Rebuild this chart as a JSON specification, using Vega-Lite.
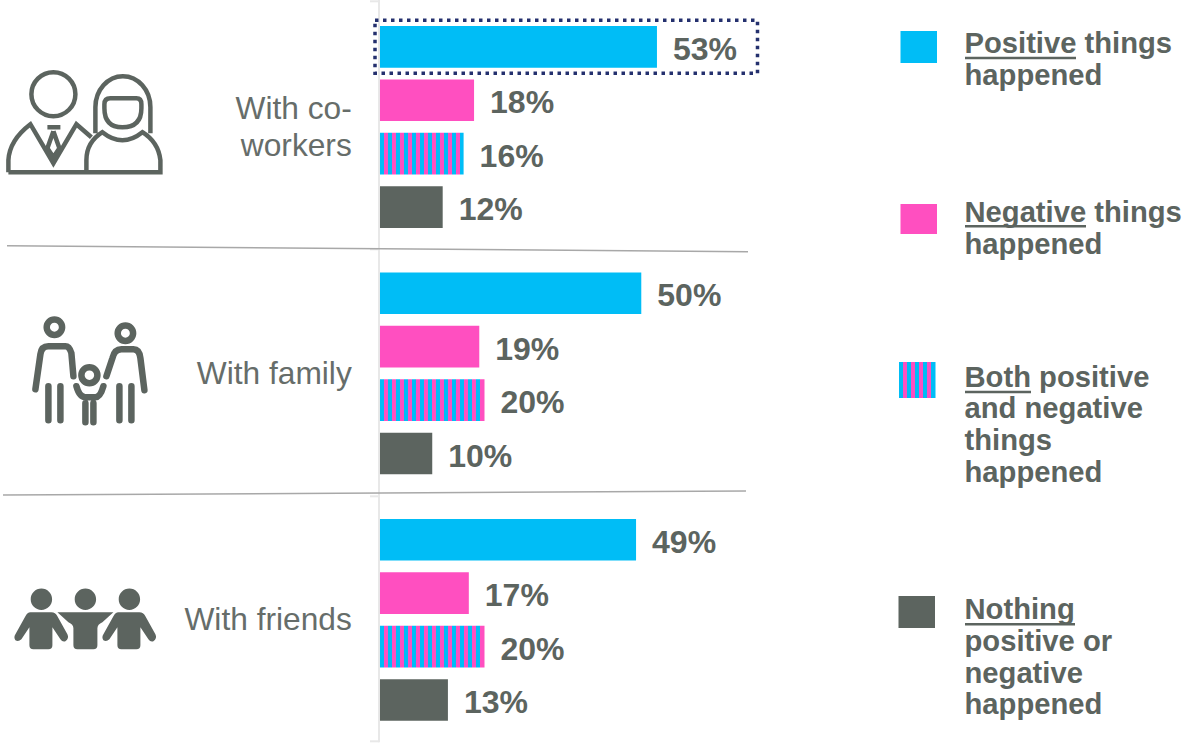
{
  "$schema": "https://vega.github.io/schema/vega-lite/v6.json",
  "width": 1192,
  "height": 746,
  "autosize": {"type": "none"},
  "padding": 0,
  "background": "white",
  "config": {"view": {"stroke": null}},
  "datasets": {
    "responses": [
      {"group": "With co-\nworkers", "outcome": "Positive", "value": 53},
      {"group": "With co-\nworkers", "outcome": "Negative", "value": 18},
      {"group": "With co-\nworkers", "outcome": "Both", "value": 16},
      {"group": "With co-\nworkers", "outcome": "Nothing", "value": 12},
      {"group": "With family", "outcome": "Positive", "value": 50},
      {"group": "With family", "outcome": "Negative", "value": 19},
      {"group": "With family", "outcome": "Both", "value": 20},
      {"group": "With family", "outcome": "Nothing", "value": 10},
      {"group": "With friends", "outcome": "Positive", "value": 49},
      {"group": "With friends", "outcome": "Negative", "value": 17},
      {"group": "With friends", "outcome": "Both", "value": 20},
      {"group": "With friends", "outcome": "Nothing", "value": 13}
    ],
    "groups": [
      {"group": "With co-\nworkers"},
      {"group": "With family"},
      {"group": "With friends"}
    ],
    "dividers": [
      {"x": 7, "x2": 748, "y": 246.5, "y2": 252.5},
      {"x": 3, "x2": 746, "y": 495.7, "y2": 491.7}
    ],
    "axisLine": [
      {"x": 379, "x2": 379, "y": 0, "y2": 743},
      {"x": 370, "x2": 379, "y": 2, "y2": 2},
      {"x": 370, "x2": 379, "y": 250, "y2": 250},
      {"x": 370, "x2": 379, "y": 497, "y2": 497},
      {"x": 370, "x2": 379, "y": 742, "y2": 742}
    ],
    "highlight": [{"x": 375, "x2": 757.5, "y": 20.9, "y2": 73.9}],
    "swatches": [
      {"outcome": "Positive", "x": 900.5, "x2": 937, "y": 31.7, "y2": 63.7},
      {"outcome": "Negative", "x": 900.5, "x2": 937, "y": 204.7, "y2": 234.7},
      {"outcome": "Nothing", "x": 898.5, "x2": 935, "y": 596.7, "y2": 628.7}
    ],
    "bothSwatch": [{"outcome": "Both", "x": 899, "x2": 935.5, "y": 362.7, "y2": 398.7}],
    "legendText": [
      {"text": "Positive things", "x": 964.5, "y": 54},
      {"text": "happened", "x": 964.5, "y": 86},
      {"text": "Negative things", "x": 964.5, "y": 222.5},
      {"text": "happened", "x": 964.5, "y": 254.5},
      {"text": "Both positive", "x": 964.5, "y": 387.5},
      {"text": "and negative", "x": 964.5, "y": 418.5},
      {"text": "things", "x": 964.5, "y": 451},
      {"text": "happened", "x": 964.5, "y": 483},
      {"text": "Nothing", "x": 964.5, "y": 620},
      {"text": "positive or", "x": 964.5, "y": 652},
      {"text": "negative", "x": 964.5, "y": 684},
      {"text": "happened", "x": 964.5, "y": 715}
    ],
    "legendUnderline": [
      {"x": 965, "x2": 1076, "y": 58.7, "y2": 58.7},
      {"x": 965, "x2": 1086, "y": 227, "y2": 227},
      {"x": 965, "x2": 1031, "y": 392.7, "y2": 392.7},
      {"x": 965, "x2": 1075, "y": 625, "y2": 625}
    ],
    "origin": [{"x": 0.4, "y": 0.9}]
  },
  "resolve": {"scale": {"x": "independent", "y": "independent"}},
  "layer": [
    {
      "encoding": {
        "x": {"field": "x", "type": "quantitative", "scale": {"domain": [0, 1192], "nice": false}, "axis": null},
        "y": {"field": "y", "type": "quantitative", "scale": {"domain": [746.7, 0.7], "nice": false}, "axis": null}
      },
      "layer": [
        {
          "data": {"name": "axisLine"},
          "mark": {"type": "rule", "stroke": "#e8e8e8", "strokeWidth": 2},
          "encoding": {"x2": {"field": "x2"}, "y2": {"field": "y2"}}
        },
        {
          "data": {"name": "dividers"},
          "mark": {"type": "rule", "stroke": "#a8a8a8", "strokeWidth": 1.5},
          "encoding": {"x2": {"field": "x2"}, "y2": {"field": "y2"}}
        },
        {
          "data": {"name": "highlight"},
          "mark": {"type": "rect", "fillOpacity": 0, "stroke": "#24306E", "strokeWidth": 3.5, "strokeDash": [3.5, 4.5]},
          "encoding": {"x2": {"field": "x2"}, "y2": {"field": "y2"}}
        },
        {
          "data": {"name": "swatches"},
          "mark": {"type": "rect"},
          "encoding": {
            "x2": {"field": "x2"},
            "y2": {"field": "y2"},
            "color": {"field": "outcome", "type": "nominal", "legend": null,
              "scale": {"domain": ["Positive", "Negative", "Both", "Nothing"], "range": ["#00BDF6", "#FF4FC0", "#8E86DB", "#5C645F"]}}
          }
        },
        {
          "data": {"name": "bothSwatch"},
          "mark": {"type": "rect", "fill": {
            "gradient": "linear", "x1": 0, "x2": 1, "y1": 0, "y2": 0,
            "stops": [
              {"offset": 0, "color": "#00BDF6"}, {"offset": 0.1111, "color": "#00BDF6"},
              {"offset": 0.1111, "color": "#FF4FC0"}, {"offset": 0.2222, "color": "#FF4FC0"},
              {"offset": 0.2222, "color": "#00BDF6"}, {"offset": 0.3333, "color": "#00BDF6"},
              {"offset": 0.3333, "color": "#FF4FC0"}, {"offset": 0.4444, "color": "#FF4FC0"},
              {"offset": 0.4444, "color": "#00BDF6"}, {"offset": 0.5556, "color": "#00BDF6"},
              {"offset": 0.5556, "color": "#FF4FC0"}, {"offset": 0.6667, "color": "#FF4FC0"},
              {"offset": 0.6667, "color": "#00BDF6"}, {"offset": 0.7778, "color": "#00BDF6"},
              {"offset": 0.7778, "color": "#FF4FC0"}, {"offset": 0.8889, "color": "#FF4FC0"},
              {"offset": 0.8889, "color": "#00BDF6"}, {"offset": 1, "color": "#00BDF6"}
            ]}},
          "encoding": {"x2": {"field": "x2"}, "y2": {"field": "y2"}}
        },
        {
          "data": {"name": "legendText"},
          "mark": {"type": "text", "align": "left", "baseline": "alphabetic", "font": "Liberation Sans", "fontWeight": "bold", "fontSize": 29.2, "fill": "#5C645F"},
          "encoding": {"text": {"field": "text"}}
        },
        {
          "data": {"name": "legendUnderline"},
          "mark": {"type": "rule", "stroke": "#5C645F", "strokeWidth": 2.5},
          "encoding": {"x2": {"field": "x2"}, "y2": {"field": "y2"}}
        },
        {
          "data": {"name": "origin"},
          "mark": {"type": "point", "size": 4, "opacity": 1, "filled": false, "stroke": "#5C645F", "strokeWidth": 4.5, "strokeJoin": "miter",
            "shape": "M31 94A22 22 0 1 0 75 94A22 22 0 1 0 31 94ZM8 172V160Q9 140 30 124L53 163L76 124L91 137M8 172H160V160Q158 142 142 132Q122 148 102 132Q86 142 86 160V172M95 133V107A27.5 31 0 0 1 150 107V133M110 98H136Q141 98 141 104V108Q141 127 122 127Q104 127 104 108V104Q104 98 110 98ZM47 127H60M53 131L47 148L53 157L59 148L53 131"}
        },
        {
          "data": {"name": "origin"},
          "mark": {"type": "point", "size": 4, "opacity": 1, "filled": false, "stroke": "#5C645F", "strokeWidth": 6.5, "strokeCap": "round", "strokeJoin": "round",
            "shape": "M46.3 327A7.7 7.7 0 1 0 61.7 327A7.7 7.7 0 1 0 46.3 327ZM35 389L40 354Q41 346 48 346H65Q69 346 71 353L73 376M48 386V420M60 386V420M117.3 333A7.7 7.7 0 1 0 132.7 333A7.7 7.7 0 1 0 117.3 333ZM106 376L112 358Q114 349 121 349H133Q139 349 140 358L144 390M119 386V420M131 386V420M81 375A8 8 0 1 0 97 375A8 8 0 1 0 81 375ZM76 386Q79 397 85 397H95Q100 397 103 386M85 403V422M93 403V422"}
        },
        {
          "data": {"name": "origin"},
          "mark": {"type": "point", "size": 4, "opacity": 1, "filled": true, "fill": "#5C645F", "stroke": null,
            "shape": "M30.3 599A10.7 10.7 0 1 0 51.7 599A10.7 10.7 0 1 0 30.3 599ZM74.3 599A10.7 10.7 0 1 0 95.7 599A10.7 10.7 0 1 0 74.3 599ZM118.3 599A10.7 10.7 0 1 0 139.7 599A10.7 10.7 0 1 0 118.3 599ZM30 612H51Q55 612 57 616L67 634Q69 638 65 641Q62 642 60 639L52 627V645Q52 649 48 649H33Q29 649 29 645V627L21 639Q18 642 15 640Q13 637 15 634L25 616Q27 612 30 612ZM57 612H113L102 622Q97 624 97 628V645Q97 649 93 649H77Q73 649 73 645V628Q73 624 68 622ZM118 612H139Q143 612 145 616L155 634Q157 638 153 641Q150 642 148 639L140 627V645Q140 649 136 649H121Q117 649 117 645V627L109 639Q106 642 103 640Q101 637 103 634L113 616Q115 612 118 612Z"}
        }
      ]
    },
    {
      "layer": [
        {
          "data": {"name": "responses"},
          "transform": [{"filter": "datum.outcome !== 'Both'"}],
          "mark": {"type": "bar"},
          "encoding": {
            "x": {"field": "value", "type": "quantitative", "stack": null, "scale": {"domain": [-72.71, 155.38], "nice": false}, "axis": null},
            "y": {"field": "group", "type": "nominal", "axis": null, "scale": {"domain": ["With co-\nworkers", "With family", "With friends"], "paddingInner": 0.133, "paddingOuter": 0.08, "align": 0.51}},
            "yOffset": {"field": "outcome", "type": "nominal", "scale": {"domain": ["Positive", "Negative", "Both", "Nothing"], "paddingInner": 0.22, "paddingOuter": 0.11}},
            "color": {"field": "outcome", "type": "nominal", "legend": null}
          }
        },
        {
          "data": {"name": "responses"},
          "transform": [{"filter": "datum.outcome === 'Both' && datum.value === 16"}],
          "mark": {"type": "bar", "fill": {
            "gradient": "linear", "x1": 0, "x2": 1, "y1": 0, "y2": 0,
            "stops": [
              {"offset": 0, "color": "#00BDF6"}, {"offset": 0.0476, "color": "#00BDF6"},
              {"offset": 0.0476, "color": "#FF4FC0"}, {"offset": 0.0952, "color": "#FF4FC0"},
              {"offset": 0.0952, "color": "#00BDF6"}, {"offset": 0.1429, "color": "#00BDF6"},
              {"offset": 0.1429, "color": "#FF4FC0"}, {"offset": 0.1905, "color": "#FF4FC0"},
              {"offset": 0.1905, "color": "#00BDF6"}, {"offset": 0.2381, "color": "#00BDF6"},
              {"offset": 0.2381, "color": "#FF4FC0"}, {"offset": 0.2857, "color": "#FF4FC0"},
              {"offset": 0.2857, "color": "#00BDF6"}, {"offset": 0.3333, "color": "#00BDF6"},
              {"offset": 0.3333, "color": "#FF4FC0"}, {"offset": 0.381, "color": "#FF4FC0"},
              {"offset": 0.381, "color": "#00BDF6"}, {"offset": 0.4286, "color": "#00BDF6"},
              {"offset": 0.4286, "color": "#FF4FC0"}, {"offset": 0.4762, "color": "#FF4FC0"},
              {"offset": 0.4762, "color": "#00BDF6"}, {"offset": 0.5238, "color": "#00BDF6"},
              {"offset": 0.5238, "color": "#FF4FC0"}, {"offset": 0.5714, "color": "#FF4FC0"},
              {"offset": 0.5714, "color": "#00BDF6"}, {"offset": 0.619, "color": "#00BDF6"},
              {"offset": 0.619, "color": "#FF4FC0"}, {"offset": 0.6667, "color": "#FF4FC0"},
              {"offset": 0.6667, "color": "#00BDF6"}, {"offset": 0.7143, "color": "#00BDF6"},
              {"offset": 0.7143, "color": "#FF4FC0"}, {"offset": 0.7619, "color": "#FF4FC0"},
              {"offset": 0.7619, "color": "#00BDF6"}, {"offset": 0.8095, "color": "#00BDF6"},
              {"offset": 0.8095, "color": "#FF4FC0"}, {"offset": 0.8571, "color": "#FF4FC0"},
              {"offset": 0.8571, "color": "#00BDF6"}, {"offset": 0.9048, "color": "#00BDF6"},
              {"offset": 0.9048, "color": "#FF4FC0"}, {"offset": 0.9524, "color": "#FF4FC0"},
              {"offset": 0.9524, "color": "#00BDF6"}, {"offset": 1, "color": "#00BDF6"}
            ]}},
          "encoding": {
            "x": {"field": "value", "type": "quantitative", "stack": null},
            "y": {"field": "group", "type": "nominal"},
            "yOffset": {"field": "outcome", "type": "nominal"}
          }
        },
        {
          "data": {"name": "responses"},
          "transform": [{"filter": "datum.outcome === 'Both' && datum.value === 20"}],
          "mark": {"type": "bar", "fill": {
            "gradient": "linear", "x1": 0, "x2": 1, "y1": 0, "y2": 0,
            "stops": [
              {"offset": 0, "color": "#00BDF6"}, {"offset": 0.0385, "color": "#00BDF6"},
              {"offset": 0.0385, "color": "#FF4FC0"}, {"offset": 0.0769, "color": "#FF4FC0"},
              {"offset": 0.0769, "color": "#00BDF6"}, {"offset": 0.1154, "color": "#00BDF6"},
              {"offset": 0.1154, "color": "#FF4FC0"}, {"offset": 0.1538, "color": "#FF4FC0"},
              {"offset": 0.1538, "color": "#00BDF6"}, {"offset": 0.1923, "color": "#00BDF6"},
              {"offset": 0.1923, "color": "#FF4FC0"}, {"offset": 0.2308, "color": "#FF4FC0"},
              {"offset": 0.2308, "color": "#00BDF6"}, {"offset": 0.2692, "color": "#00BDF6"},
              {"offset": 0.2692, "color": "#FF4FC0"}, {"offset": 0.3077, "color": "#FF4FC0"},
              {"offset": 0.3077, "color": "#00BDF6"}, {"offset": 0.3462, "color": "#00BDF6"},
              {"offset": 0.3462, "color": "#FF4FC0"}, {"offset": 0.3846, "color": "#FF4FC0"},
              {"offset": 0.3846, "color": "#00BDF6"}, {"offset": 0.4231, "color": "#00BDF6"},
              {"offset": 0.4231, "color": "#FF4FC0"}, {"offset": 0.4615, "color": "#FF4FC0"},
              {"offset": 0.4615, "color": "#00BDF6"}, {"offset": 0.5, "color": "#00BDF6"},
              {"offset": 0.5, "color": "#FF4FC0"}, {"offset": 0.5385, "color": "#FF4FC0"},
              {"offset": 0.5385, "color": "#00BDF6"}, {"offset": 0.5769, "color": "#00BDF6"},
              {"offset": 0.5769, "color": "#FF4FC0"}, {"offset": 0.6154, "color": "#FF4FC0"},
              {"offset": 0.6154, "color": "#00BDF6"}, {"offset": 0.6538, "color": "#00BDF6"},
              {"offset": 0.6538, "color": "#FF4FC0"}, {"offset": 0.6923, "color": "#FF4FC0"},
              {"offset": 0.6923, "color": "#00BDF6"}, {"offset": 0.7308, "color": "#00BDF6"},
              {"offset": 0.7308, "color": "#FF4FC0"}, {"offset": 0.7692, "color": "#FF4FC0"},
              {"offset": 0.7692, "color": "#00BDF6"}, {"offset": 0.8077, "color": "#00BDF6"},
              {"offset": 0.8077, "color": "#FF4FC0"}, {"offset": 0.8462, "color": "#FF4FC0"},
              {"offset": 0.8462, "color": "#00BDF6"}, {"offset": 0.8846, "color": "#00BDF6"},
              {"offset": 0.8846, "color": "#FF4FC0"}, {"offset": 0.9231, "color": "#FF4FC0"},
              {"offset": 0.9231, "color": "#00BDF6"}, {"offset": 0.9615, "color": "#00BDF6"},
              {"offset": 0.9615, "color": "#FF4FC0"}, {"offset": 1, "color": "#FF4FC0"}
            ]}},
          "encoding": {
            "x": {"field": "value", "type": "quantitative", "stack": null},
            "y": {"field": "group", "type": "nominal"},
            "yOffset": {"field": "outcome", "type": "nominal"}
          }
        },
        {
          "data": {"name": "responses"},
          "transform": [{"calculate": "datum.value + '%'", "as": "label"}],
          "mark": {"type": "text", "align": "left", "baseline": "middle", "dx": 16, "dy": 3, "font": "Liberation Sans", "fontWeight": "bold", "fontSize": 32, "fill": "#5C645F"},
          "encoding": {
            "x": {"field": "value", "type": "quantitative", "stack": null},
            "y": {"field": "group", "type": "nominal"},
            "yOffset": {"field": "outcome", "type": "nominal"},
            "text": {"field": "label"}
          }
        },
        {
          "data": {"name": "groups"},
          "transform": [{"filter": "datum.group !== 'With co-\\nworkers'"}],
          "mark": {"type": "text", "align": "right", "baseline": "middle", "dy": 0.5, "font": "Liberation Sans", "fontSize": 31.7, "fill": "#666D6A"},
          "encoding": {
            "x": {"datum": -5.4, "type": "quantitative"},
            "y": {"field": "group", "type": "nominal"},
            "text": {"field": "group"}
          }
        },
        {
          "data": {"name": "groups"},
          "transform": [{"filter": "datum.group === 'With co-\\nworkers'"}],
          "mark": {"type": "text", "align": "right", "baseline": "middle", "dy": -17.5, "lineBreak": "\n", "lineHeight": 36.5, "font": "Liberation Sans", "fontSize": 31.7, "fill": "#666D6A"},
          "encoding": {
            "x": {"datum": -5.4, "type": "quantitative"},
            "y": {"field": "group", "type": "nominal"},
            "text": {"field": "group"}
          }
        }
      ]
    }
  ]
}
